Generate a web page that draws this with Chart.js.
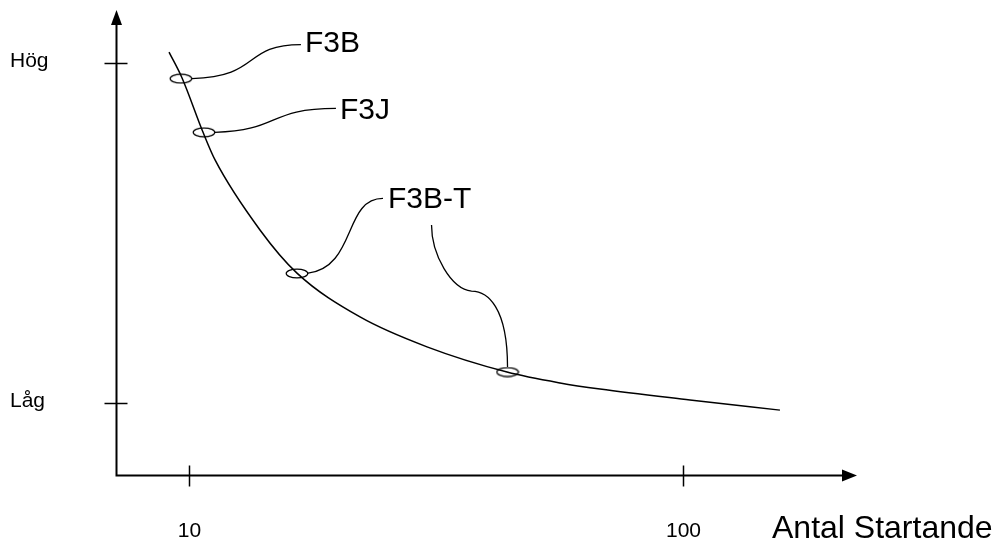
<!DOCTYPE html>
<html>
<head>
<meta charset="utf-8">
<script src="https://cdn.jsdelivr.net/npm/chart.js@4"></script>
<style>
  html, body { margin: 0; padding: 0; background: #fff; }
  #wrap { width: 998px; height: 544px; }
</style>
</head>
<body>
<div id="wrap"><canvas id="chart" width="998" height="544"></canvas></div>
<script>
// curve (x = antal startande, log axis; y: 0 = Låg, 1 = Hög)
const curveX = [9.11, 9.68, 10.67, 11.29, 13.92, 16.54, 22.19, 30.32, 44.02, 56.36, 67.92, 103.3, 157.1];
const curveY = [1.032, 0.956, 0.797, 0.715, 0.509, 0.382, 0.253, 0.165, 0.091, 0.059, 0.041, 0.009, -0.021];

// marked classes on the curve
const markNames = ['F3B', 'F3J', 'F3B-T', 'F3B-T'];
const markX = [9.63, 10.72, 16.54, 44.13];
const markY = [0.954, 0.796, 0.381, 0.091];

const xTickValues = [10, 100];
const xTickLabels = ['10', '100'];
const yTickValues = [1, 0];
const yTickLabels = ['Hög', 'Låg'];
const xTitle = 'Antal Startande';

const ink = '#000';

// small open ellipse used as point style
function ellipseMarker() {
    const c = document.createElement('canvas');
    c.width = 24; c.height = 11;
    const g = c.getContext('2d');
    g.strokeStyle = ink;
    g.lineWidth = 1.2;
    g.beginPath();
    g.ellipse(12, 5.5, 10.8, 4.4, 0, 0, Math.PI * 2);
    g.stroke();
    return c;
}

// label text spots and callout paths (pixels); each callout starts at its mark
const callouts = [
    { text: 'F3B', tx: 305, ty: 44, path: [[11, 0], [70, -2, 50, -34, 109, -34]] },
    { text: 'F3J', tx: 340, ty: 111, path: [[11, 0], [66, -2, 52, -24, 121, -24]] },
    { text: 'F3B-T', tx: 388, ty: 200, path: [[10, 0], [50, -6, 36, -75, 76, -75]] },
    { text: null, path: [[0, -5], [0, -60, -20, -76, -36, -76], [-56, -78, -76, -112, -76, -142]] }
];

const axesPlugin = {
    id: 'sketchAxes',
    afterDatasetsDraw(chart) {
        const ctx = chart.ctx;
        const xs = chart.scales.x, ys = chart.scales.y;
        const a = chart.chartArea;
        const ox = a.left + 0.5, oy = a.bottom + 0.5;
        ctx.save();
        ctx.strokeStyle = ink;
        ctx.fillStyle = ink;
        ctx.lineWidth = 2;

        // axes
        ctx.beginPath();
        ctx.moveTo(ox, a.top + 12);
        ctx.lineTo(ox, oy);
        ctx.lineTo(a.right - 12, oy);
        ctx.stroke();
        ctx.beginPath();
        ctx.moveTo(ox, a.top - 2);
        ctx.lineTo(ox - 5.5, a.top + 13);
        ctx.lineTo(ox + 5.5, a.top + 13);
        ctx.closePath();
        ctx.fill();
        ctx.beginPath();
        ctx.moveTo(a.right, oy);
        ctx.lineTo(a.right - 15, oy - 6);
        ctx.lineTo(a.right - 15, oy + 6);
        ctx.closePath();
        ctx.fill();

        // ticks
        ctx.lineWidth = 1.5;
        ctx.font = '21px "Liberation Sans", Arial, sans-serif';
        ctx.textBaseline = 'middle';
        xTickValues.forEach((v, i) => {
            const px = Math.round(xs.getPixelForValue(v)) + 0.5;
            ctx.beginPath();
            ctx.moveTo(px, oy - 10);
            ctx.lineTo(px, oy + 11);
            ctx.stroke();
            ctx.textAlign = 'center';
            ctx.fillText(xTickLabels[i], px, 531);
        });
        yTickValues.forEach((v, i) => {
            const py = Math.round(ys.getPixelForValue(v)) + 0.5;
            ctx.beginPath();
            ctx.moveTo(ox - 12, py);
            ctx.lineTo(ox + 11, py);
            ctx.stroke();
            ctx.textAlign = 'left';
            ctx.fillText(yTickLabels[i], 10, py - 2);
        });

        ctx.font = '32px "Liberation Sans", Arial, sans-serif';
        ctx.textAlign = 'left';
        ctx.textBaseline = 'alphabetic';
        ctx.fillText(xTitle, 772, 538);

        // callouts
        ctx.lineWidth = 1.3;
        ctx.font = '30px "Liberation Sans", Arial, sans-serif';
        ctx.textBaseline = 'middle';
        const pts = chart.getDatasetMeta(1).data;
        callouts.forEach((c, i) => {
            const p = pts[i];
            const sx = p.x + c.path[0][0], sy = p.y + c.path[0][1];
            ctx.beginPath();
            ctx.moveTo(sx, sy);
            for (let k = 1; k < c.path.length; k++) {
                const s = c.path[k];
                ctx.bezierCurveTo(sx + s[0], sy + s[1], sx + s[2], sy + s[3], sx + s[4], sy + s[5]);
            }
            ctx.stroke();
            if (c.text) ctx.fillText(c.text, c.tx, c.ty);
        });
        ctx.restore();
    }
};

new Chart(document.getElementById('chart'), {
    type: 'line',
    data: {
        datasets: [{
            label: 'kurva',
            data: curveX.map((x, i) => ({ x: x, y: curveY[i] })),
            borderColor: ink,
            borderWidth: 1.5,
            pointRadius: 0,
            cubicInterpolationMode: 'monotone',
            fill: false
        }, {
            label: 'klasser',
            data: markX.map((x, i) => ({ x: x, y: markY[i], name: markNames[i] })),
            showLine: false,
            pointStyle: ellipseMarker(),
            pointRadius: 6
        }]
    },
    options: {
        responsive: false,
        devicePixelRatio: 1,
        animation: false,
        layout: { padding: { left: 116, right: 141, top: 12, bottom: 69 } },
        plugins: { legend: { display: false }, tooltip: { enabled: false } },
        scales: {
            x: { type: 'logarithmic', min: 7.115, max: 225, bounds: 'data', display: false },
            y: { type: 'linear', min: -0.2118, max: 1.15, bounds: 'data', display: false }
        }
    },
    plugins: [axesPlugin]
});
</script>
</body>
</html>
